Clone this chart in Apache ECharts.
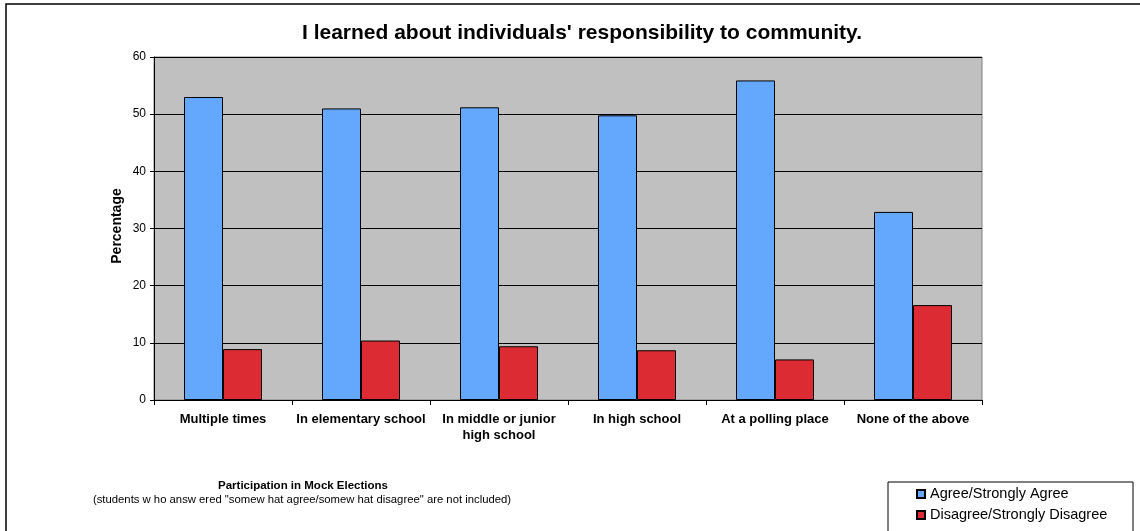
<!DOCTYPE html>
<html>
<head>
<meta charset="utf-8">
<title>I learned about individuals' responsibility to community.</title>
<script src="https://cdn.jsdelivr.net/npm/echarts@6/dist/echarts.min.js"></script>
<style>
  html, body { margin: 0; padding: 0; background: #fff; }
  #chart { width: 1140px; height: 531px; }
</style>
</head>
<body>
<div id="chart"></div>
<script>
// Survey categories and percentages
const categories = [
  'Multiple times',
  'In elementary school',
  'In middle or junior\nhigh school',
  'In high school',
  'At a polling place',
  'None of the above'
];
const agreeValues = [53.0, 51.0, 51.2, 49.8, 55.9, 32.9];
const disagreeValues = [8.9, 10.4, 9.4, 8.7, 7.1, 16.6];
const yTicks = { min: 0, max: 60, interval: 10 };
const seriesNames = ['Agree/Strongly Agree', 'Disagree/Strongly Disagree'];

const FONT = '"Liberation Sans", Arial, sans-serif';

const chart = echarts.init(document.getElementById('chart'), null, { renderer: 'canvas' });

chart.setOption({
  animation: false,
  textStyle: { fontFamily: FONT, color: '#000' },
  grid: {
    left: 154, right: 158, top: 57, bottom: 131,
    show: true,
    backgroundColor: '#c0c0c0',
    borderColor: '#808080',
    borderWidth: 1
  },
  legend: {
    orient: 'vertical',
    left: 916,
    top: 486,
    padding: 0,
    itemWidth: 8,
    itemHeight: 8,
    itemGap: 5,
    icon: 'rect',
    textStyle: { fontFamily: FONT, fontSize: 14.5, lineHeight: 16, color: '#000' },
    data: seriesNames
  },
  xAxis: {
    type: 'category',
    data: categories,
    axisLine: { lineStyle: { color: '#000', width: 1 } },
    axisTick: { show: true, length: 5, inside: false, alignWithLabel: false, lineStyle: { color: '#000' } },
    axisLabel: {
      fontFamily: FONT, fontSize: 13, fontWeight: 'bold', color: '#000',
      margin: 11, lineHeight: 16, interval: 0
    },
    splitLine: { show: false }
  },
  yAxis: {
    type: 'value',
    min: yTicks.min, max: yTicks.max, interval: yTicks.interval,
    axisLine: { show: true, lineStyle: { color: '#000', width: 1 } },
    axisTick: { show: true, length: 4, lineStyle: { color: '#000' } },
    axisLabel: { fontFamily: FONT, fontSize: 12, color: '#000', margin: 8 },
    splitLine: { show: true, lineStyle: { color: '#000', width: 1 } }
  },
  series: [
    {
      name: seriesNames[0],
      type: 'bar',
      data: agreeValues,
      barWidth: 39,
      barGap: '0%',
      itemStyle: { color: '#64a8fe', borderColor: '#000', borderWidth: 1 }
    },
    {
      name: seriesNames[1],
      type: 'bar',
      data: disagreeValues,
      barWidth: 39,
      itemStyle: { color: '#dc2b32', borderColor: '#000', borderWidth: 1 }
    }
  ],
  graphic: [
    // outer frame
    {
      type: 'rect', silent: true, z: -1,
      shape: { x: 6, y: 4, width: 1200, height: 600 },
      style: { fill: null, stroke: '#000', lineWidth: 1.5 }
    },
    // legend frame
    {
      type: 'rect', silent: true,
      shape: { x: 888, y: 482, width: 245, height: 80 },
      style: { fill: null, stroke: '#000', lineWidth: 1 }
    },
    {
      type: 'text', silent: true,
      x: 582, y: 33,
      style: {
        text: "I learned about individuals' responsibility to community.",
        font: 'bold 21px ' + FONT, fill: '#000',
        textAlign: 'center', textVerticalAlign: 'middle'
      }
    },
    {
      type: 'text', silent: true,
      x: 117, y: 226, rotation: Math.PI / 2,
      style: {
        text: 'Percentage',
        font: 'bold 14px ' + FONT, fill: '#000',
        textAlign: 'center', textVerticalAlign: 'middle'
      }
    },
    {
      type: 'text', silent: true,
      x: 303, y: 486,
      style: {
        text: 'Participation in Mock Elections',
        font: 'bold 11.5px ' + FONT, fill: '#000',
        textAlign: 'center', textVerticalAlign: 'middle'
      }
    },
    {
      type: 'text', silent: true,
      x: 302, y: 500,
      style: {
        text: '(students w ho answ ered "somew hat agree/somew hat disagree" are not included)',
        font: '11.3px ' + FONT, fill: '#000',
        textAlign: 'center', textVerticalAlign: 'middle'
      }
    }
  ]
});
</script>
</body>
</html>
